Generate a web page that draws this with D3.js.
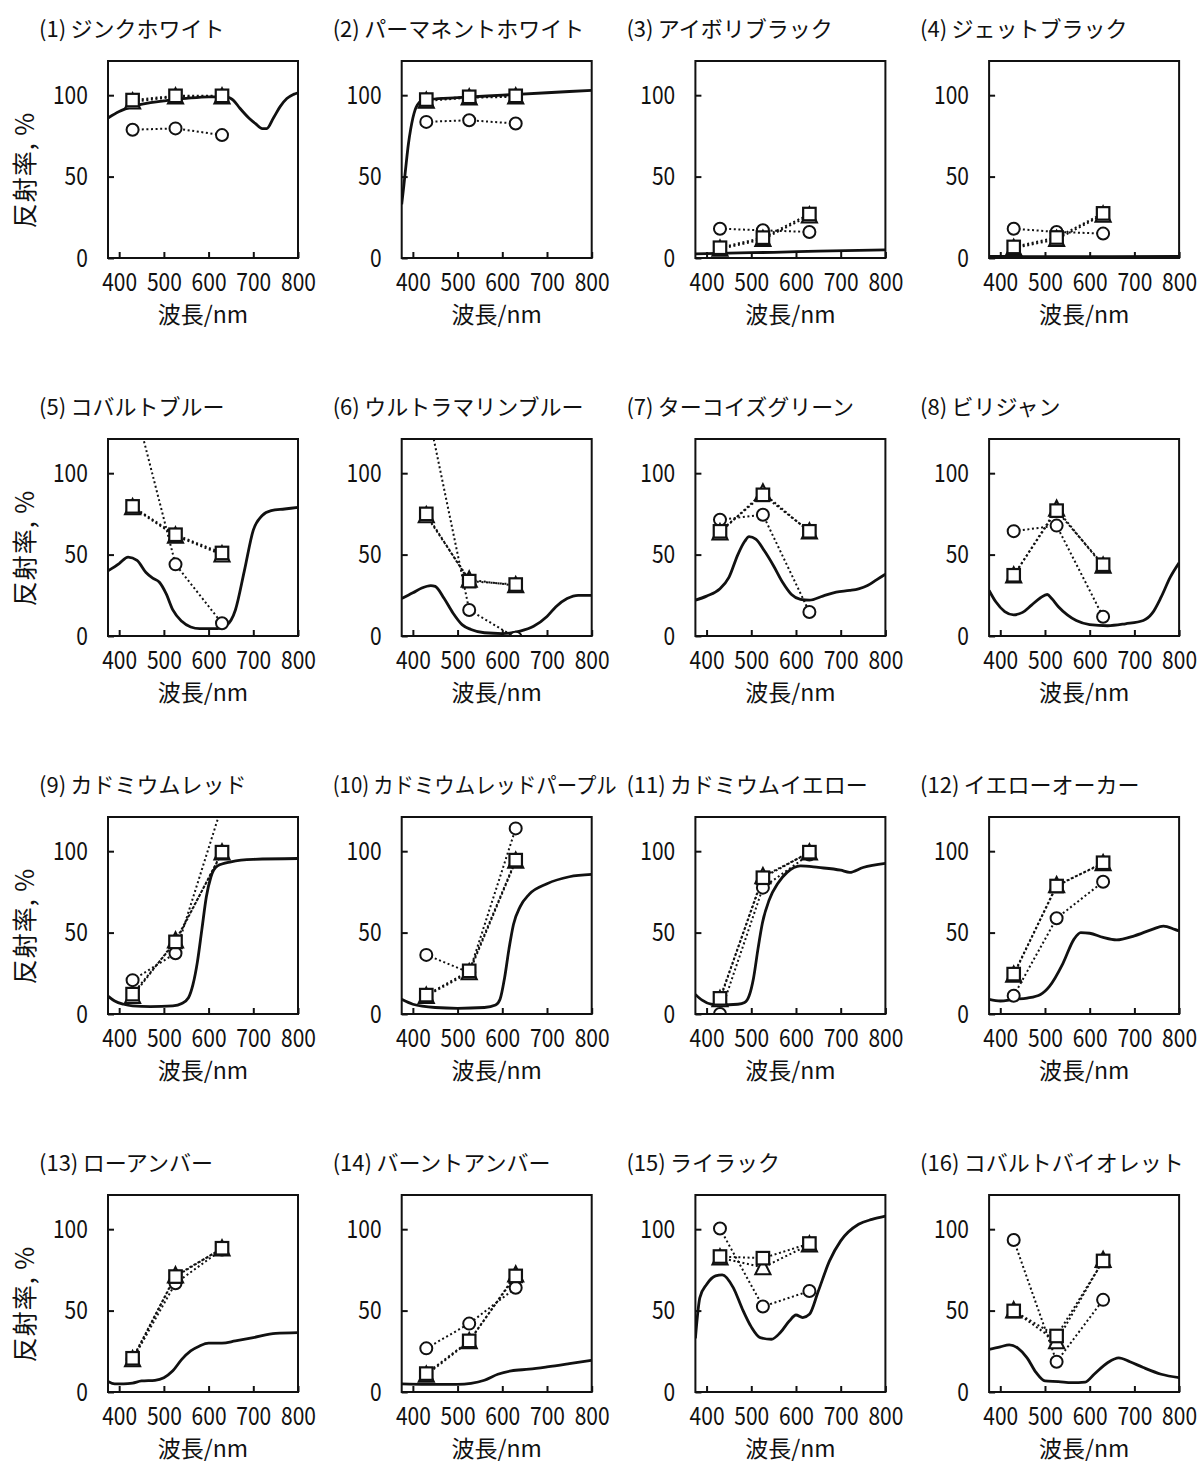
<!DOCTYPE html>
<html>
<head>
<meta charset="utf-8">
<script src="https://cdn.jsdelivr.net/npm/d3@7"></script>
<style>
  body { margin: 0; background: #fff; }
  svg { display: block; }
  text { font-family: "Noto Sans CJK JP", "Noto Sans", sans-serif; fill: #111; }
</style>
</head>
<body>
<div id="chart"></div>
<script>
// ---------------- data ----------------
const panelNumbers = ["(1)", "(2)", "(3)", "(4)", "(5)", "(6)", "(7)", "(8)",
  "(9)", "(10)", "(11)", "(12)", "(13)", "(14)", "(15)", "(16)"];
const panelNames = ["ジンクホワイト", "パーマネントホワイト", "アイボリブラック", "ジェットブラック",
  "コバルトブルー", "ウルトラマリンブルー", "ターコイズグリーン", "ビリジャン",
  "カドミウムレッド", "カドミウムレッドパープル", "カドミウムイエロー", "イエローオーカー",
  "ローアンバー", "バーントアンバー", "ライラック", "コバルトバイオレット"];

const xLabel = "波長/nm";
const yLabel = "反射率, %";
const xTicks = [400, 500, 600, 700, 800];
const yTicks = [0, 50, 100];

const markerWavelengths = [430, 526, 630];

const squareValues = [
  [97, 99.6, 99.6], [97.3, 99, 99.6], [6.3, 12.5, 27], [6.8, 12.6, 27.4],
  [79.6, 62.2, 51], [75, 33.7, 31.6], [64.3, 86.7, 64.3], [37.3, 77, 43.8],
  [12.2, 44.3, 99.4], [11.6, 26.5, 94.5], [9.6, 83.7, 99.4], [24.5, 78.6, 92.9],
  [20.7, 70.9, 88.3], [11.3, 31.4, 71.3], [83.2, 82.2, 91.2], [49.8, 34.4, 80.5]
];
const triangleValues = [
  [96, 99, 99], [96.5, 98.5, 99], [5.5, 11.5, 26], [6, 11.5, 26.5],
  [79, 61.5, 50], [74, 34.5, 31], [63.5, 88, 64], [37, 78, 43],
  [11, 45, 99], [11, 25.5, 94], [9, 84.5, 99], [24, 79, 92.5],
  [20, 71.5, 88], [10.5, 31, 72], [82.5, 76.5, 90.5], [50, 31, 81]
];
const circleValues = [
  [78.8, 79.6, 75.5], [83.6, 84.6, 82.6], [18, 17, 16], [18, 16, 15],
  [147, 44, 7.8], [143, 16, -1], [71.4, 74.5, 14.7], [64.4, 67.8, 11.8],
  [20.8, 37.3, 128], [36.3, 25.5, 114], [0, 77.6, 98], [11.2, 58.8, 81.2],
  [20, 66.8, 87.5], [26.8, 42, 64], [100.4, 52.5, 62], [93.4, 18.6, 56.6]
];

const spectrumWavelengths = [
  [375, 400, 430, 470, 500, 550, 600, 640, 655, 670, 690, 705, 720, 730, 745, 760, 775, 790, 800],
  [375, 380, 385, 390, 395, 400, 405, 410, 420, 440, 500, 600, 700, 800],
  [375, 450, 550, 650, 800],
  [375, 500, 650, 800],
  [375, 400, 420, 440, 460, 475, 490, 505, 520, 540, 560, 580, 620, 640, 660, 680, 700, 720, 740, 770, 800],
  [375, 400, 420, 440, 450, 470, 490, 510, 530, 560, 600, 640, 670, 700, 720, 745, 770, 800],
  [375, 400, 430, 450, 470, 485, 495, 510, 530, 550, 570, 590, 610, 630, 660, 690, 720, 740, 760, 780, 800],
  [375, 390, 410, 430, 450, 470, 490, 505, 515, 530, 550, 570, 600, 640, 680, 720, 740, 760, 780, 800],
  [375, 390, 410, 430, 470, 520, 540, 555, 565, 575, 585, 595, 605, 620, 650, 700, 800],
  [375, 400, 450, 500, 560, 585, 595, 605, 615, 625, 640, 660, 700, 750, 800],
  [375, 390, 410, 430, 470, 485, 495, 505, 515, 525, 540, 560, 580, 610, 650, 700, 720, 750, 800],
  [375, 400, 430, 460, 490, 510, 540, 565, 580, 600, 630, 660, 700, 740, 765, 790, 800],
  [375, 390, 410, 430, 450, 480, 500, 520, 540, 560, 580, 600, 630, 660, 700, 750, 800],
  [375, 430, 500, 530, 560, 590, 620, 660, 700, 750, 800],
  [375, 385, 400, 420, 435, 460, 480, 500, 520, 545, 565, 585, 600, 615, 630, 650, 675, 700, 740, 770, 800],
  [375, 400, 420, 440, 460, 480, 500, 530, 560, 590, 610, 640, 665, 690, 720, 760, 800]
];
const spectrumValues = [
  [86, 90, 93, 95.5, 96.5, 98, 99, 99, 97, 92, 86, 82.5, 79.5, 79.5, 86, 93, 98, 100.5, 101.5],
  [33, 45, 58, 70, 79, 86, 91, 94, 96.5, 97.5, 98.5, 100, 101.5, 103],
  [2.5, 3, 3.5, 4.2, 5],
  [1, 0.8, 0.8, 1],
  [40, 44.5, 48.5, 46.5, 39, 35.5, 33, 26, 16, 9, 5.5, 4.5, 4.5, 6.5, 16, 40, 65, 74, 77, 78, 79],
  [23, 26.5, 29.5, 31, 30.5, 23, 14, 7, 4, 2, 1.5, 3, 6, 12, 18, 23, 25, 25],
  [22, 24.5, 29, 36, 50, 58, 61, 59.5, 52, 43, 33, 25.5, 22.5, 22, 24.5, 27, 28, 29, 31, 34.5, 38],
  [28, 21, 15, 13, 14.5, 19, 23.5, 25.5, 23, 18, 13, 9.5, 7, 6.3, 7.5, 9.5, 14, 24, 36, 45],
  [11, 8, 6, 5, 4.5, 5, 6.5, 10, 18, 32, 52, 72, 84, 91, 93.5, 95, 95.5],
  [9, 6, 4, 3.5, 4, 5.5, 9, 22, 40, 55, 66, 73.5, 80, 84.3, 85.7],
  [12, 8.5, 6, 5.5, 6, 7, 11, 22, 40, 56, 70, 80.5, 87, 91, 90, 88.3, 87, 90, 92.5],
  [9, 8, 9, 9.8, 12, 17, 31, 46, 50, 49.6, 47, 45.5, 48, 52, 54, 52, 51],
  [6.5, 5, 5, 5.5, 6.8, 7.2, 8.8, 13, 20, 25.2, 28.3, 30, 30, 31.4, 33.4, 36, 36.5],
  [5, 4.7, 4.7, 5.3, 7.2, 10.9, 13, 14, 15.4, 17.4, 19.5],
  [33, 58, 66, 71.3, 72, 64, 51, 40, 33.4, 32.4, 36.5, 43.6, 47.3, 45.7, 47.7, 62, 80.5, 92.8, 103, 106, 108],
  [26.2, 27.7, 29, 26.8, 21, 12, 6.8, 6.4, 5.7, 6.1, 10.9, 18, 21, 18.6, 15, 10.9, 8.8]
];

// ---------------- layout ----------------
const W = 1201, H = 1463;
const plotW = 190, plotH = 197;
const colLeft = i => 108 + i * 293.7;
const rowTop = j => 61 + j * 378;
const ink = "#111";
const maxTitleWidth = 284;

const svg = d3.select("#chart").append("svg")
  .attr("width", W).attr("height", H).attr("viewBox", `0 0 ${W} ${H}`);

const x = d3.scaleLinear().domain([375, 800]).range([0, plotW]);
const y = d3.scaleLinear().domain([0, 121]).range([plotH, 0]);

const defs = svg.append("defs");
defs.append("clipPath").attr("id", "plotclip")
  .append("rect").attr("x", 0).attr("y", 0).attr("width", plotW).attr("height", plotH);

const specLine = d3.line()
  .x(d => x(d[0])).y(d => y(d[1]))
  .curve(d3.curveMonotoneX);
const ptLine = d3.line()
  .x((d, i) => x(markerWavelengths[i])).y(d => y(d));

const triPath = "M0,-8.5L7.6,6.8L-7.6,6.8Z";

panelNames.forEach((name, k) => {
  const col = k % 4, row = Math.floor(k / 4);
  const left = colLeft(col), top = rowTop(row);
  const g = svg.append("g").attr("transform", `translate(${left},${top})`);

  // title
  const t = svg.append("text")
    .attr("x", left - 69).attr("y", top - 24)
    .style("font-size", "22px")
    .text(panelNumbers[k] + "\u2009" + name);
  const tw = t.node().getComputedTextLength();
  if (tw > maxTitleWidth) {
    t.attr("textLength", maxTitleWidth).attr("lengthAdjust", "spacingAndGlyphs");
  }

  const body = g.append("g").attr("clip-path", "url(#plotclip)");

  // spectrum
  const spec = spectrumWavelengths[k].map((w, i) => [w, spectrumValues[k][i]]);
  body.append("path").datum(spec)
    .attr("d", specLine)
    .attr("fill", "none").attr("stroke", ink)
    .attr("stroke-width", 2.8).attr("stroke-linejoin", "round");

  // dotted connecting lines
  [circleValues[k], squareValues[k], triangleValues[k]].forEach(vals => {
    body.append("path").datum(vals)
      .attr("d", ptLine)
      .attr("fill", "none").attr("stroke", ink)
      .attr("stroke-width", 2).attr("stroke-dasharray", "2,2.6");
  });

  // circles
  body.selectAll(".c").data(circleValues[k]).enter().append("circle")
    .attr("cx", (d, i) => x(markerWavelengths[i])).attr("cy", d => y(d))
    .attr("r", 6).attr("fill", "#fff").attr("stroke", ink).attr("stroke-width", 2);
  // triangles
  body.selectAll(".t").data(triangleValues[k]).enter().append("path")
    .attr("transform", (d, i) => `translate(${x(markerWavelengths[i])},${y(d)})`)
    .attr("d", triPath)
    .attr("fill", "#fff").attr("stroke", ink).attr("stroke-width", 2);
  // squares
  body.selectAll(".s").data(squareValues[k]).enter().append("rect")
    .attr("x", (d, i) => x(markerWavelengths[i]) - 6.25).attr("y", d => y(d) - 6.25)
    .attr("width", 12.5).attr("height", 12.5)
    .attr("fill", "#fff").attr("stroke", ink).attr("stroke-width", 2.2);

  // axes
  const xa = g.append("g").attr("transform", `translate(0,${plotH})`)
    .call(d3.axisBottom(x).tickValues(xTicks).tickSize(-6).tickPadding(15).tickSizeOuter(0));
  const ya = g.append("g")
    .call(d3.axisLeft(y).tickValues(yTicks).tickSize(-6).tickPadding(24).tickSizeOuter(0));
  [xa, ya].forEach(a => {
    a.select(".domain").remove();
    a.selectAll(".tick line").attr("stroke", ink).attr("stroke-width", 2);
    a.selectAll(".tick text")
      .attr("fill", ink)
      .style("font-size", "25px")
      .style("font-family", "'Noto Sans CJK JP', 'Noto Sans', sans-serif")
      .attr("transform", "scale(0.84,1)");
  });

  // frame
  g.append("rect").attr("x", 0).attr("y", 0).attr("width", plotW).attr("height", plotH)
    .attr("fill", "none").attr("stroke", ink).attr("stroke-width", 2);

  // x label
  svg.append("text")
    .attr("x", left + plotW / 2).attr("y", top + plotH + 65)
    .attr("text-anchor", "middle")
    .style("font-size", "23px")
    .text(xLabel);

  // y label (first column only)
  if (col === 0) {
    svg.append("text")
      .attr("transform", `translate(23,${top + 109}) rotate(-90)`)
      .attr("text-anchor", "middle")
      .attr("dominant-baseline", "central")
      .style("font-size", "25px")
      .style("letter-spacing", "1px")
      .text(yLabel);
  }
});
</script>
</body>
</html>
